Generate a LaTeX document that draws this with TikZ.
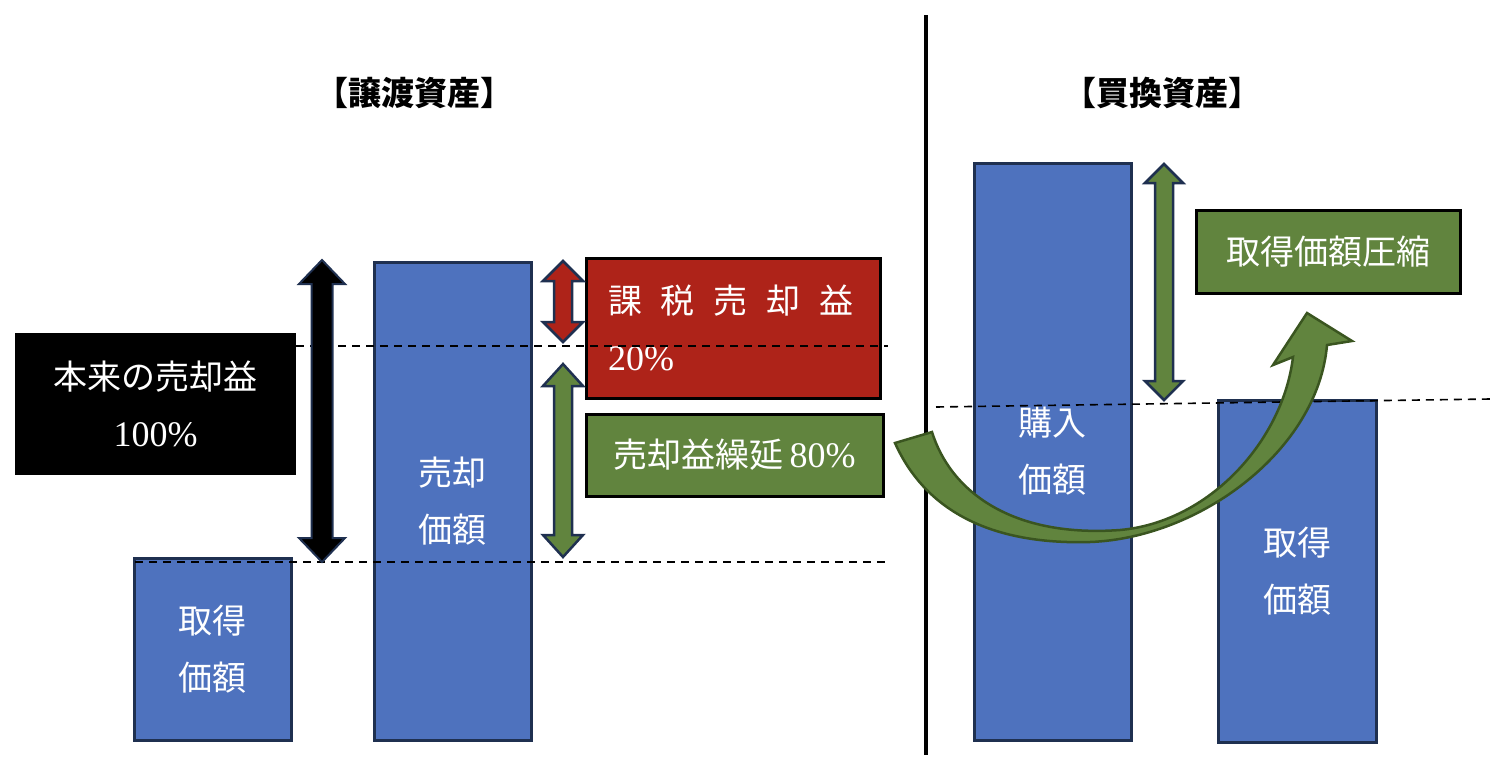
\documentclass[tikz,border=0pt]{standalone}
\usepackage{fontspec}
\setmainfont{Liberation Serif}
\newfontfamily\jp{Noto Sans CJK JP}
\definecolor{boxblue}{HTML}{4E72BE}
\definecolor{navy}{HTML}{1F3050}
\definecolor{boxred}{HTML}{AE2319}
\definecolor{boxgreen}{HTML}{61843E}
\definecolor{arrowedge}{HTML}{3A5520}
% vertical double arrow: x, ytop, ybot, head half width, shaft half width, head length, style
\newcommand\vdblarrow[7]{%
  \path[#7] (#1,#2) -- (#1+#4,#2+#6) -- (#1+#5,#2+#6) -- (#1+#5,#3-#6) -- (#1+#4,#3-#6)
    -- (#1,#3) -- (#1-#4,#3-#6) -- (#1-#5,#3-#6) -- (#1-#5,#2+#6) -- (#1-#4,#2+#6) -- cycle;}
\tikzset{
  boxtext/.style={text=white, font=\jp\fontsize{34}{57}\selectfont, align=center, inner sep=0pt},
  bluebox/.style={boxtext, draw=navy, line width=3pt, fill=boxblue},
  redbox/.style={boxtext, draw=black, line width=3pt, fill=boxred},
  greenbox/.style={boxtext, draw=black, line width=3pt, fill=boxgreen},
  blackbox/.style={boxtext, fill=black},
  titletext/.style={font=\jp\bfseries\fontsize{33}{36}\selectfont},
  dashline/.style={draw=black, line width=1.6pt, dash pattern=on 8pt off 6pt},
  divider/.style={draw=black, line width=3.2pt},
  blackarrow/.style={fill=black, draw=navy, line width=2pt, line join=miter},
  redarrow/.style={fill=boxred, draw=navy, line width=2.5pt, line join=miter},
  greenarrow/.style={fill=boxgreen, draw=navy, line width=2.5pt, line join=miter},
  bigarrow/.style={fill=boxgreen, draw=arrowedge, line width=2.5pt, line join=miter},
}
\begin{document}
\begin{tikzpicture}[x=1pt,y=-1pt]
\useasboundingbox (0,0) rectangle (1500,758);
% titles
\node[titletext] (titleL) at (414,93) {【譲渡資産】};
\node[titletext] (titleR) at (1162,93) {【買換資産】};
% divider
\coordinate (v1) at (926,15);
\coordinate (v2) at (926,755);
\draw[divider] (v1) -- (v2);
% left side boxes
\node[bluebox, minimum width=157, minimum height=182] (acqL) at (212.5,649) {取得\\価額};
\node[bluebox, minimum width=157, minimum height=478] (sale) at (452.5,501) {売却\\価額};
\node[blackbox, minimum width=281, minimum height=142] (orig) at (155.5,404) {本来の売却益\\{\rmfamily\fontsize{36}{57}\selectfont 100\%}};
\node[redbox, minimum width=294, minimum height=140, text width=250, inner xsep=22pt, align=left] (tax) at (733,328)
  {課\hspace{19pt}税\hspace{19pt}売\hspace{19pt}却\hspace{19pt}益\\{\rmfamily\fontsize{36}{57}\selectfont 20\%}};
\node[greenbox, minimum width=297, minimum height=82] (defer) at (734.5,455) {売却益繰延{\rmfamily\fontsize{36}{57}\selectfont\,80\%}};
% right side boxes
\node[bluebox, minimum width=157, minimum height=577] (buy) at (1052.5,451.5) {購入\\価額};
\node[bluebox, minimum width=158, minimum height=342] (acqR) at (1297,571) {取得\\価額};
\node[greenbox, minimum width=264, minimum height=83] (compress) at (1328,251.5) {取得価額圧縮};
% dashed lines
\coordinate (d1a) at (296,346);
\coordinate (d1b) at (888,346);
\coordinate (d2a) at (135,562);
\coordinate (d2b) at (888,562);
\coordinate (d3a) at (936,407);
\coordinate (d3b) at (1490,399);
\draw[dashline] (d1a) -- (d1b);
\draw[dashline] (d2a) -- (d2b);
\draw[dashline] (d3a) -- (d3b);
% double arrows
\vdblarrow{322}{260}{562}{23}{10.5}{24}{blackarrow}
\vdblarrow{563}{261}{342}{20}{9}{20}{redarrow}
\vdblarrow{563}{364}{557}{20}{9}{22}{greenarrow}
\vdblarrow{1164}{164}{400}{19}{9}{19}{greenarrow}
% big curved arrow
\path[bigarrow] (895,443) .. controls (925,510) and (990,545) .. (1090,542)
  .. controls (1200,538) and (1318,450) .. (1327,345)
  -- (1352,341) -- (1307,313) -- (1273,365) -- (1293,357)
  .. controls (1283,440) and (1210,522) .. (1120,530)
  .. controls (1010,538) and (950,490) .. (932,432) -- cycle;
\end{tikzpicture}
\end{document}
